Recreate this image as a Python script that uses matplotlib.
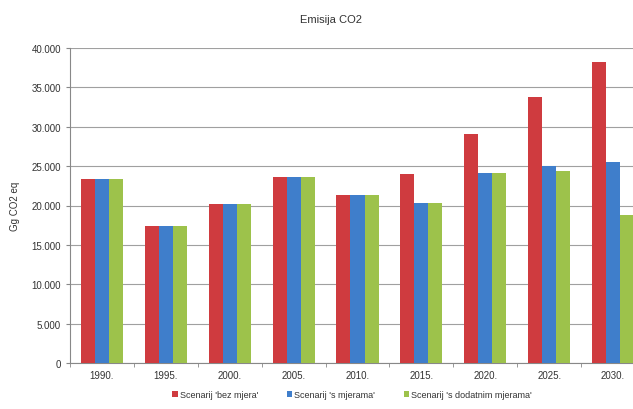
import numpy as np
import matplotlib
matplotlib.use("Agg")
import matplotlib.pyplot as plt
from matplotlib.ticker import FuncFormatter

plt.rcParams['font.family'] = ['Liberation Sans', 'DejaVu Sans']

years = ['1990.', '1995.', '2000.', '2005.', '2010.', '2015.', '2020.', '2025.', '2030.']
bez_mjera = [23400, 17400, 20200, 23600, 21300, 24000, 29100, 33800, 38200]
s_mjerama = [23400, 17400, 20200, 23600, 21300, 20300, 24100, 25000, 25500]
s_dodatnim = [23400, 17400, 20200, 23600, 21300, 20300, 24100, 24400, 18800]
labels = ["Scenarij 'bez mjera'", "Scenarij 's mjerama'", "Scenarij 's dodatnim mjerama'"]
colors = ['#CF3B3F', '#3F7ECB', '#9DC24B']

fig = plt.figure(figsize=(6.33, 4.10), dpi=100)
ax = fig.add_axes([70/633, 46/410, 575/633, 315/410])

x = np.arange(len(years))
w = 0.22
for i, (vals, lab, c) in enumerate(zip([bez_mjera, s_mjerama, s_dodatnim], labels, colors)):
    ax.bar(x + (i - 1) * w, vals, w, color=c, label=lab, zorder=3)

ax.set_xlim(-0.5, len(years) - 0.5)
ax.set_ylim(0, 40000)
ax.set_yticks(np.arange(0, 40001, 5000))
ax.yaxis.set_major_formatter(FuncFormatter(lambda v, p: '0' if v == 0 else f'{int(v):,}'.replace(',', '.')))
ax.set_xticks(x)
ax.set_xticklabels(years)
ax.set_xticks(np.arange(-0.5, len(years), 1), minor=True)
ax.tick_params(axis='x', which='major', length=0, labelsize=7, pad=5, colors='#333333')
ax.tick_params(axis='x', which='minor', length=3, color='#888888')
ax.tick_params(axis='y', length=3, labelsize=7, color='#888888', labelcolor='#333333')
ax.grid(axis='y', color='#a0a0a0', linewidth=0.8, zorder=0)
for s in ['top', 'right']:
    ax.spines[s].set_visible(False)
ax.spines['left'].set_color('#888888')
ax.spines['bottom'].set_color('#888888')

ax.set_ylabel('Gg CO2 eq', fontsize=7, color='#333333', labelpad=8)
fig.text(331/633, 1 - 20/410, 'Emisija CO2', ha='center', va='center', fontsize=8, color='#333333')

fig.legend(loc='center', bbox_to_anchor=(352/633, 1 - 396/410), ncol=3, frameon=False,
           fontsize=6.5, handlelength=0.6, handleheight=0.6, handletextpad=0.2,
           columnspacing=3.2, labelcolor='#333333')

fig.savefig('out.png', dpi=100)
